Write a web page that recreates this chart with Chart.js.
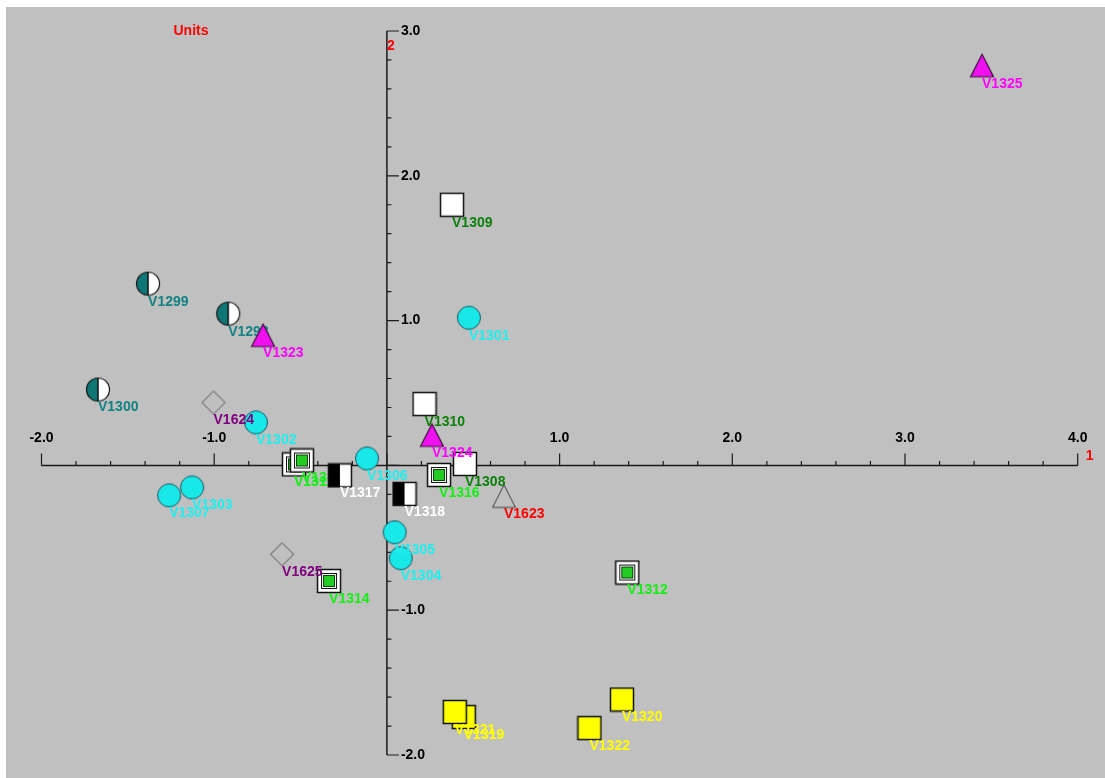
<!DOCTYPE html>
<html>
<head>
<meta charset="utf-8">
<script src="https://cdn.jsdelivr.net/npm/chart.js@4/dist/chart.umd.min.js"></script>
<style>
  html, body { margin: 0; padding: 0; background: #fff; }
  #wrap { width: 1105px; height: 778px; position: relative; }
</style>
</head>
<body>
<div id="wrap"><canvas id="scatter"></canvas></div>
<script>
// axis ranges and tick labels
var xTicks = [-2.0, -1.0, 1.0, 2.0, 3.0, 4.0];
var yTicks = [3.0, 2.0, 1.0, -1.0, -2.0];

// series (names, x, y)
var cyanNames = ["V1301", "V1302", "V1303", "V1307", "V1306", "V1305", "V1304"];
var cyanX     = [0.475, -0.758, -1.128, -1.261, -0.115, 0.045, 0.080];
var cyanY     = [1.02, 0.297, -0.152, -0.207, 0.048, -0.462, -0.641];

var tealNames = ["V1299", "V1298", "V1300"];
var tealX     = [-1.383, -0.919, -1.673];
var tealY     = [1.255, 1.048, 0.524];

var whiteNames = ["V1309", "V1310", "V1308"];
var whiteX     = [0.377, 0.218, 0.452];
var whiteY     = [1.80, 0.424, 0.010];

var boxNames = ["V1311", "V1313", "V1316", "V1314", "V1312"];
var boxX     = [-0.538, -0.492, 0.302, -0.335, 1.392];
var boxY     = [0.007, 0.034, -0.066, -0.798, -0.740];

var halfNames = ["V1317", "V1318"];
var halfX     = [-0.272, 0.102];
var halfY     = [-0.069, -0.197];

var yellowNames = ["V1319", "V1321", "V1320", "V1322"];
var yellowX     = [0.445, 0.393, 1.361, 1.173];
var yellowY     = [-1.738, -1.703, -1.617, -1.814];

var diamondNames = ["V1624", "V1625"];
var diamondX     = [-1.004, -0.607];
var diamondY     = [0.434, -0.614];

var greyTriNames = ["V1623"];
var greyTriX     = [0.678];
var greyTriY     = [-0.214];

var magentaNames = ["V1323", "V1324", "V1325"];
var magentaX     = [-0.717, 0.261, 3.446];
var magentaY     = [0.897, 0.207, 2.76];

function pts(xs, ys) {
  return xs.map(function (v, i) { return { x: v, y: ys[i] }; });
}

// little canvases used as point styles
function marker(size, draw) {
  var c = document.createElement('canvas');
  c.width = size; c.height = size;
  draw(c.getContext('2d'), size);
  return c;
}
var S = 26;
var cyanDot = marker(S, function (g, s) {
  g.beginPath(); g.arc(s / 2, s / 2, 11.5, 0, Math.PI * 2);
  g.fillStyle = '#19e8e8'; g.fill();
  g.lineWidth = 1; g.strokeStyle = '#1d5560'; g.stroke();
});
var tealDot = marker(S, function (g, s) {
  g.beginPath(); g.arc(s / 2, s / 2, 11.5, 0, Math.PI * 2);
  g.fillStyle = '#ffffff'; g.fill();
  g.beginPath(); g.arc(s / 2, s / 2, 11.5, Math.PI / 2, Math.PI * 1.5);
  g.closePath(); g.fillStyle = '#0f7676'; g.fill();
  g.beginPath(); g.moveTo(s / 2, s / 2 - 11.5); g.lineTo(s / 2, s / 2 + 11.5);
  g.lineWidth = 1.5; g.strokeStyle = '#111'; g.stroke();
  g.beginPath(); g.arc(s / 2, s / 2, 11.5, 0, Math.PI * 2);
  g.lineWidth = 1.2; g.stroke();
});
var whiteBox = marker(S, function (g, s) {
  g.fillStyle = '#ffffff'; g.fillRect(1.5, 1.5, 23, 23);
  g.lineWidth = 1.5; g.strokeStyle = '#111'; g.strokeRect(1.5, 1.5, 23, 23);
});
var greenBox = marker(S, function (g, s) {
  g.fillStyle = '#ffffff'; g.fillRect(1.5, 1.5, 23, 23);
  g.lineWidth = 1.5; g.strokeStyle = '#111'; g.strokeRect(1.5, 1.5, 23, 23);
  g.lineWidth = 1; g.strokeRect(5.5, 5.5, 15, 15);
  g.fillStyle = '#22cc22'; g.fillRect(8, 8, 10, 10);
  g.strokeStyle = '#0a400a'; g.strokeRect(7.5, 7.5, 11, 11);
});
var halfBox = marker(S, function (g, s) {
  g.fillStyle = '#ffffff'; g.fillRect(1.5, 1.5, 23, 23);
  g.fillStyle = '#000000'; g.fillRect(1.5, 1.5, 11.5, 23);
  g.lineWidth = 1.5; g.strokeStyle = '#111'; g.strokeRect(1.5, 1.5, 23, 23);
});
var yellowBox = marker(S, function (g, s) {
  g.fillStyle = '#ffff00'; g.fillRect(1.5, 1.5, 23, 23);
  g.lineWidth = 1.5; g.strokeStyle = '#111'; g.strokeRect(1.5, 1.5, 23, 23);
});
var diamond = marker(S, function (g, s) {
  g.beginPath(); g.moveTo(13, 1.5); g.lineTo(24.5, 13); g.lineTo(13, 24.5); g.lineTo(1.5, 13); g.closePath();
  g.lineWidth = 1; g.strokeStyle = '#505050'; g.stroke();
});
var greyTri = marker(S, function (g, s) {
  g.beginPath(); g.moveTo(13, 1.5); g.lineTo(24.5, 24); g.lineTo(1.5, 24); g.closePath();
  g.lineWidth = 1; g.strokeStyle = '#404040'; g.stroke();
});
var magentaTri = marker(S, function (g, s) {
  g.beginPath(); g.moveTo(13, 1.5); g.lineTo(24.5, 24); g.lineTo(1.5, 24); g.closePath();
  g.fillStyle = '#f010f0'; g.fill();
  g.lineWidth = 1.2; g.strokeStyle = '#3a103a'; g.stroke();
});

var FONT = 'bold 14px "Liberation Sans", Arial, sans-serif';

var bgPlugin = {
  id: 'bg',
  beforeDraw: function (chart) {
    var c = chart.ctx;
    c.save();
    c.fillStyle = '#ffffff'; c.fillRect(0, 0, chart.width, chart.height);
    c.fillStyle = '#c0c0c0'; c.fillRect(6, 7, chart.width - 6, chart.height - 7);
    c.restore();
  }
};

// cross axes drawn through the origin with the chart's own scales
var axesPlugin = {
  id: 'crossAxes',
  beforeDatasetsDraw: function (chart) {
    var c = chart.ctx, xs = chart.scales.x, ys = chart.scales.y;
    var x0 = xs.getPixelForValue(0), y0 = ys.getPixelForValue(0);
    c.save();
    c.strokeStyle = '#1a1a1a'; c.lineWidth = 1.5;
    c.beginPath();
    c.moveTo(xs.getPixelForValue(-2), y0); c.lineTo(xs.getPixelForValue(4), y0);
    c.moveTo(x0, ys.getPixelForValue(-2)); c.lineTo(x0, ys.getPixelForValue(3));
    c.stroke();
    c.lineWidth = 1.2;
    c.beginPath();
    for (var i = -10; i <= 20; i++) {
      var px = xs.getPixelForValue(i / 5);
      var len = (i % 5 === 0) ? 12 : 4.5;
      c.moveTo(px, y0); c.lineTo(px, y0 - len);
    }
    for (var j = -10; j <= 15; j++) {
      var py = ys.getPixelForValue(j / 5);
      var l2 = (j % 5 === 0) ? 12 : 4.5;
      c.moveTo(x0, py); c.lineTo(x0 + l2, py);
    }
    c.stroke();
    c.font = FONT; c.fillStyle = '#000';
    c.textAlign = 'center'; c.textBaseline = 'middle';
    xTicks.forEach(function (v) {
      c.fillText(v.toFixed(1), xs.getPixelForValue(v), y0 - 27);
    });
    c.textAlign = 'left';
    yTicks.forEach(function (v) {
      c.fillText(v.toFixed(1), x0 + 14, ys.getPixelForValue(v));
    });
    c.fillStyle = '#ff0000';
    c.fillText('1', xs.getPixelForValue(4) + 8, y0 - 9);
    c.textAlign = 'center';
    c.fillText('2', x0 + 4, ys.getPixelForValue(3) + 15);
    c.fillText('Units', 191, 31);
    c.restore();
  },
  afterDatasetDraw: function (chart, args) {
    var ds = chart.data.datasets[args.index];
    var c = chart.ctx;
    c.save();
    c.font = FONT; c.fillStyle = ds.labelColor;
    c.textAlign = 'left'; c.textBaseline = 'middle';
    args.meta.data.forEach(function (el, i) {
      c.fillText(ds.names[i], el.x, el.y + 18);
    });
    c.restore();
  }
};

var groups = [
  { names: cyanNames, xs: cyanX, ys: cyanY, style: cyanDot, color: '#1ef0f0' },
  { names: tealNames, xs: tealX, ys: tealY, style: tealDot, color: '#128282' },
  { names: whiteNames, xs: whiteX, ys: whiteY, style: whiteBox, color: '#0c800c' },
  { names: boxNames, xs: boxX, ys: boxY, style: greenBox, color: '#14ee14' },
  { names: halfNames, xs: halfX, ys: halfY, style: halfBox, color: '#ffffff' },
  { names: yellowNames, xs: yellowX, ys: yellowY, style: yellowBox, color: '#ffff00' },
  { names: diamondNames, xs: diamondX, ys: diamondY, style: diamond, color: '#800080' },
  { names: greyTriNames, xs: greyTriX, ys: greyTriY, style: greyTri, color: '#ff0000' },
  { names: magentaNames, xs: magentaX, ys: magentaY, style: magentaTri, color: '#ff00ff' }
];

var datasets = groups.map(function (g, i) {
  return {
    data: pts(g.xs, g.ys),
    names: g.names,
    labelColor: g.color,
    pointStyle: g.style,
    pointRadius: 12,
    pointHoverRadius: 12,
    order: groups.length - i,
    clip: false
  };
});

var ctx = document.getElementById('scatter');
var chart = new Chart(ctx, {
  type: 'scatter',
  data: { datasets: datasets },
  options: {
    responsive: true,
    maintainAspectRatio: false,
    animation: false,
    layout: { padding: { left: 41.5, right: 27.3, top: 31, bottom: 23 } },
    plugins: { legend: { display: false }, tooltip: { enabled: false } },
    scales: {
      x: { type: 'linear', min: -2, max: 4, display: false },
      y: { type: 'linear', min: -2, max: 3, display: false }
    }
  },
  plugins: [bgPlugin, axesPlugin]
});
</script>
</body>
</html>
